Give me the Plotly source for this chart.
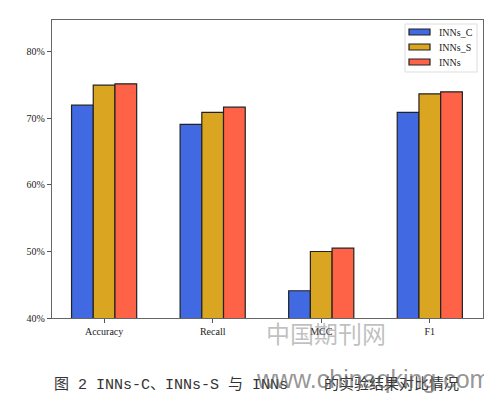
import plotly.graph_objects as go

categories = ["Accuracy", "Recall", "MCC", "F1"]
inns_c = [72.0, 69.1, 44.1, 70.9]
inns_s = [75.0, 70.9, 50.0, 73.7]
inns = [75.2, 71.7, 50.5, 74.0]
series_names = ["INNs_C", "INNs_S", "INNs"]
colors = ["#4169E1", "#DAA520", "#FF6347"]
y_ticks = [40, 50, 60, 70, 80]
y_tick_labels = ["40%", "50%", "60%", "70%", "80%"]

NB = "\u00a0"
cjk = "font-family:'Noto Sans CJK SC';font-size:15px"
mono = "font-family:'Liberation Mono';font-size:15px"
caption = (
    f"<span style=\"{cjk}\">图</span>"
    f"<span style=\"{mono}\">{NB}2{NB}INNs-C</span>"
    f"<span style=\"{cjk}\">、</span>"
    f"<span style=\"{mono}\">INNs-S{NB}</span>"
    f"<span style=\"{cjk}\">与</span>"
    f"<span style=\"{mono}\">{NB}INNs{NB}{NB}{NB}{NB}</span>"
    f"<span style=\"{cjk}\">的实验结果对比情况</span>"
)

fig = go.Figure()
for name, vals, col in zip(series_names, [inns_c, inns_s, inns], colors):
    fig.add_trace(go.Bar(
        x=categories, y=vals, name=name,
        marker=dict(color=col, line=dict(color="#222222", width=1.2)),
        showlegend=False,
    ))

fig.update_layout(
    width=484, height=385,
    margin=dict(l=44, r=9, t=12, b=75),
    paper_bgcolor="white", plot_bgcolor="white",
    barmode="group", bargap=0.4, bargroupgap=0,
    font=dict(family="Liberation Serif", size=10, color="#222222"),
    showlegend=False,
    xaxis=dict(
        range=[-0.48, 3.49], showgrid=False, ticks="outside", ticklen=4,
        tickcolor="#555555", linecolor="#666666", linewidth=1.2, mirror=True,
        showline=True, tickfont=dict(family="Liberation Serif", size=10),
    ),
    yaxis=dict(
        range=[40, 84.8], tickvals=y_ticks, ticktext=y_tick_labels,
        showgrid=False, ticks="outside", ticklen=4, tickcolor="#555555",
        linecolor="#666666", linewidth=1.2, mirror=True, showline=True,
        zeroline=False, tickfont=dict(family="Liberation Serif", size=10),
    ),
)

# manual legend (matplotlib-like) in paper coordinates
PL, PR, PT, PB = 52, 483, 20, 318
def px(X):
    return (X - PL) / (PR - PL)
def py(Y):
    return (PB - Y) / (PB - PT)

fig.add_shape(type="rect", xref="paper", yref="paper",
              x0=px(405), x1=px(477), y0=py(72), y1=py(24),
              line=dict(color="#dddddd", width=1), fillcolor="white", layer="above")
for i, (name, col) in enumerate(zip(series_names, colors)):
    cy = 32 + i * 15
    fig.add_shape(type="rect", xref="paper", yref="paper",
                  x0=px(409), x1=px(430), y0=py(cy + 3), y1=py(cy - 3),
                  line=dict(color="#222222", width=1.2), fillcolor=col, layer="above")
    fig.add_annotation(text=name, xref="paper", yref="paper", x=px(437), y=py(cy),
                       xanchor="left", yanchor="middle", showarrow=False,
                       font=dict(family="Liberation Serif", size=10, color="#222222"))

fig.add_annotation(
    text=caption, xref="paper", yref="paper", x=0.0, y=-0.218,
    xanchor="left", yanchor="middle", showarrow=False,
    font=dict(family="Noto Sans CJK SC", size=15, color="#333333"),
)
fig.add_annotation(
    text="中国期刊网", xref="paper", yref="paper", x=0.636, y=-0.047,
    xanchor="center", yanchor="middle", showarrow=False,
    font=dict(family="Noto Sans CJK SC", size=24, color="rgba(130,130,130,0.5)"),
)
fig.add_annotation(
    text="www.chinaqking.com", xref="paper", yref="paper", x=1.02, y=-0.205,
    xanchor="right", yanchor="middle", showarrow=False,
    font=dict(family="Liberation Sans", size=25, color="rgba(90,90,90,0.65)"),
)

fig.write_html("out.html")
